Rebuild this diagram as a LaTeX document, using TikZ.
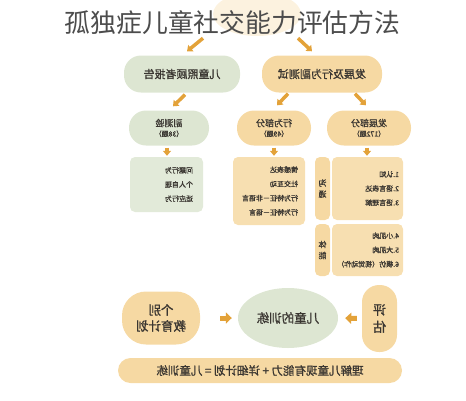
\documentclass[tikz,border=0pt]{standalone}
\usepackage{fontspec}
\usepackage{xcolor}
\usepackage{graphicx}
\usetikzlibrary{shapes.geometric}
\usetikzlibrary{positioning}
\usetikzlibrary{arrows.meta}
\newfontfamily\cjk{Noto Sans CJK SC}
\newfontfamily\cjkb[FakeBold = 1.2]{Noto Sans CJK SC}
\definecolor{peach}{HTML}{F6D9A3}
\definecolor{sage}{HTML}{DDE6D2}
\definecolor{amber}{HTML}{E3A239}
\definecolor{ink}{HTML}{3A3631}
\newcommand{\flip}[1]{\reflectbox{#1}}

\begin{document}
\begin{tikzpicture}[x = 1pt, y = -1pt, font = \cjkb, text = ink,
		pill/.style = {rounded corners = 17pt, minimum height = 37pt, inner sep = 2pt, font = \cjkb\fontsize{11}{13}\selectfont},
		small/.style = {rounded corners = 17pt, minimum height = 35pt, inner sep = 2pt, align = center, font = \cjkb\fontsize{9}{11}\selectfont},
		list/.style = {rounded corners = 5pt, align = right, inner ysep = 0pt, font = \cjkb\fontsize{7}{14.2}\selectfont},
		side/.style = {fill = peach, rounded corners = 5pt, minimum width = 15pt, inner sep = 0pt, align = center, font = \cjkb\fontsize{8}{11}\selectfont},
		blk/.style = {line width = 3.5pt, amber, -{Triangle[length = 5pt, width = 8pt]}},
		fat/.style = {line width = 5pt, amber, -{Triangle[length = 6pt, width = 11pt]}}]
		\useasboundingbox (0, 0) rectangle (466, 400);

		% title
		\node (root) [ellipse, fill = peach!35, minimum width = 88pt, minimum height = 44pt] at (257, 14) {};
		\node (title) [text = black!70, font = \cjk] at (232.5, 22.5) {\fontsize{25.8}{28}\selectfont 孤独症儿童社交能力评估方法};

		% first level
		\node (care) [pill, fill = sage, minimum width = 116pt] at (182, 74) {\flip{儿童照顾者报告}};
		\node (devbeh) [pill, fill = peach, minimum width = 120pt] at (322, 74) {\flip{发展及行为副测试}};

		% second level
		\node (sub) [small, fill = sage, minimum width = 80pt] at (169, 128) {\flip{副测验}\\[-1pt]{\fontsize{7}{9}\selectfont\flip{（38题）}}};
		\node (beh) [small, fill = peach, minimum width = 74pt] at (274, 128) {\flip{行为部分}\\[-1pt]{\fontsize{7}{9}\selectfont\flip{（49题）}}};
		\node (dev) [small, fill = peach, minimum width = 84pt] at (369, 128) {\flip{发展部分}\\[-1pt]{\fontsize{7}{9}\selectfont\flip{（172题）}}};

		% lists
		\node (carelist) [list, fill = sage!85, minimum height = 55pt, text width = 53pt, inner xsep = 10pt] at (166.5, 184.5)
			{\flip{问题行为}\\\flip{个人自理}\\\flip{适应行为}};
		\node (behlist) [list, fill = peach!85, minimum height = 68pt, text width = 58pt, inner xsep = 7pt] at (269, 191)
			{\flip{情感表达}\\\flip{社交互动}\\\flip{行为特征－非语言}\\\flip{行为特征－语言}};
		\node (comm) [side, minimum height = 63pt] at (322.5, 188.5) {\flip{沟}\\\flip{通}};
		\node (commlist) [list, fill = peach!85, minimum height = 63pt, text width = 63pt, inner xsep = 4pt] at (367.5, 188.5)
			{\flip{1.认知}\\\flip{2.语言表达}\\\flip{3.语言理解}};
		\node (motor) [side, minimum height = 52pt] at (322.5, 250) {\flip{体}\\\flip{能}};
		\node (motorlist) [list, fill = peach!85, minimum height = 52pt, text width = 63pt, inner xsep = 4pt] at (367.5, 250)
			{\flip{4.小肌肉}\\\flip{5.大肌肉}\\\flip{6.模仿（视觉动作）}};

		% training
		\node (iep) [fill = peach, rounded corners = 24pt, minimum width = 78pt, minimum height = 53pt, align = center, font = \cjkb\fontsize{12.5}{16}\selectfont] at (161, 318) {\flip{个别}\\\flip{教育计划}};
		\node (train) [ellipse, fill = sage, minimum width = 100pt, minimum height = 60pt, font = \cjkb\fontsize{12.5}{15}\selectfont] at (288, 318) {\flip{儿童的训练}};
		\node (eval) [fill = peach, rounded corners = 17pt, minimum width = 35pt, minimum height = 67pt, inner sep = 0pt, align = center, font = \cjkb\fontsize{13}{17}\selectfont] at (379.5, 318.5) {\flip{评}\\\flip{估}};
		\node (sum) [fill = peach, rounded corners = 12.5pt, minimum width = 284pt, minimum height = 25pt, font = \cjkb\fontsize{11.5}{13}\selectfont] at (260, 370.5) {\flip{理解儿童现有能力 + 详细计划 = 儿童训练}};

		% arrows
		\draw [blk] ([xshift = -54pt, yshift = -2pt]root.south) -- ([xshift = 5pt, yshift = 4pt]care.north);
		\draw [blk] ([xshift = 41pt, yshift = -2pt]root.south) -- ([xshift = -10pt, yshift = 4pt]devbeh.north);
		\draw [blk] ([xshift = 3pt, yshift = -2pt]care.south) -- ([xshift = 4pt, yshift = 4pt]sub.north);
		\draw [blk] ([xshift = -34pt, yshift = -1pt]devbeh.south) -- ([xshift = 3pt, yshift = 5pt]beh.north);
		\draw [blk] ([xshift = 33pt, yshift = -1pt]devbeh.south) -- ([xshift = -3pt, yshift = 5pt]dev.north);
		\draw [blk, shorten <= 2pt, shorten >= 1pt] ([xshift = -2pt]sub.south) -- ([xshift = -2pt]sub.south |- carelist.north);
		\draw [blk, shorten <= 2pt, shorten >= 1pt] (beh.south) -- (beh.south |- behlist.north);
		\draw [blk, shorten <= 2pt, shorten >= 1pt] ([xshift = -2pt]dev.south) -- ([xshift = -2pt]dev.south |- commlist.north);
		\draw [fat, shorten <= 20pt, shorten >= 6pt] (iep.east) -- (train.west);
		\draw [fat, shorten <= 5pt, shorten >= 7pt] (eval.west) -- (train.east);
	\end{tikzpicture}
\end{document}
